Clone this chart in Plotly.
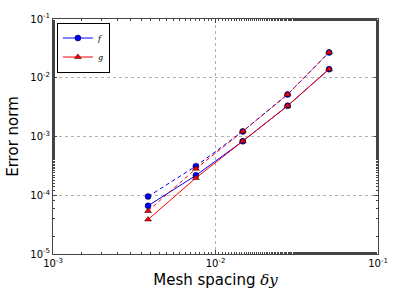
import plotly.graph_objects as go

mesh_spacing = [1/260, 1/132, 1/68, 1/36, 1/20]
f_solid = [6.6e-5, 2.18e-4, 8.3e-4, 3.33e-3, 1.40e-2]
f_dashed = [9.5e-5, 3.13e-4, 1.22e-3, 5.2e-3, 2.7e-2]
g_solid = [3.86e-5, 1.97e-4, 8.3e-4, 3.33e-3, 1.40e-2]
g_dashed = [5.4e-5, 2.82e-4, 1.22e-3, 5.2e-3, 2.7e-2]

x_tickvals = [1e-3, 1e-2, 1e-1]
x_ticktext = ["10<sup>-3</sup>", "10<sup>-2</sup>", "10<sup>-1</sup>"]
y_tickvals = [1e-5, 1e-4, 1e-3, 1e-2, 1e-1]
y_ticktext = ["10<sup>-5</sup>", "10<sup>-4</sup>", "10<sup>-3</sup>", "10<sup>-2</sup>", "10<sup>-1</sup>"]

BLUE = "#0000ff"
RED = "#ff0000"
serif = "font-family:'DejaVu Serif'"

fig = go.Figure()
fig.add_trace(go.Scatter(x=mesh_spacing, y=f_solid, mode="lines+markers",
                         name=f"<span style=\"{serif}\"><i>f</i></span>",
                         line=dict(color=BLUE, width=1),
                         marker=dict(symbol="circle", size=6, color=BLUE,
                                     line=dict(color="black", width=0.5))))
fig.add_trace(go.Scatter(x=mesh_spacing, y=f_dashed, mode="lines+markers", showlegend=False,
                         line=dict(color=BLUE, width=1, dash="4px,3px"),
                         marker=dict(symbol="circle", size=6, color=BLUE,
                                     line=dict(color="black", width=0.5))))
fig.add_trace(go.Scatter(x=mesh_spacing, y=g_solid, mode="lines+markers",
                         name=f"<span style=\"{serif}\"><i>g</i></span>",
                         line=dict(color=RED, width=1),
                         marker=dict(symbol="triangle-up", size=6, color=RED,
                                     line=dict(color="black", width=0.5))))
fig.add_trace(go.Scatter(x=mesh_spacing, y=g_dashed, mode="lines+markers", showlegend=False,
                         line=dict(color=RED, width=1, dash="4px,3px"),
                         marker=dict(symbol="triangle-up", size=6, color=RED,
                                     line=dict(color="black", width=0.5))))

axis_common = dict(
    showline=True, linecolor="#444444", linewidth=1, mirror="allticks",
    ticks="inside", ticklen=4, tickcolor="#444444",
    showgrid=True, gridcolor="#b0b0b0", griddash="dot", gridwidth=1,
    zeroline=False,
    tickfont=dict(family="DejaVu Sans", size=10, color="black"),
    minor=dict(ticks="inside", ticklen=2, tickcolor="#444444", showgrid=False),
)

fig.update_xaxes(type="log", range=[-3, -1], tickvals=x_tickvals, ticktext=x_ticktext,
                 title=dict(text=f"Mesh spacing <span style=\"{serif}\"><i>δy</i></span>",
                            font=dict(family="DejaVu Sans", size=15, color="black"),
                            standoff=6),
                 **axis_common)
fig.update_yaxes(type="log", range=[-5, -1], tickvals=y_tickvals, ticktext=y_ticktext,
                 title=dict(text="Error norm",
                            font=dict(family="DejaVu Sans", size=15, color="black"),
                            standoff=8),
                 **axis_common)

fig.update_layout(
    width=400, height=300,
    margin=dict(l=51, r=19, t=15, b=46),
    plot_bgcolor="white", paper_bgcolor="white",
    legend=dict(x=0.012, y=0.985, xanchor="left", yanchor="top",
                bordercolor="black", borderwidth=1, bgcolor="white",
                font=dict(family="DejaVu Sans", size=8, color="black"),
                itemwidth=30, tracegroupgap=0),
    showlegend=True,
)

fig.write_html("out.html", config={"displayModeBar": False},
               post_script="document.body.style.margin='0';")
